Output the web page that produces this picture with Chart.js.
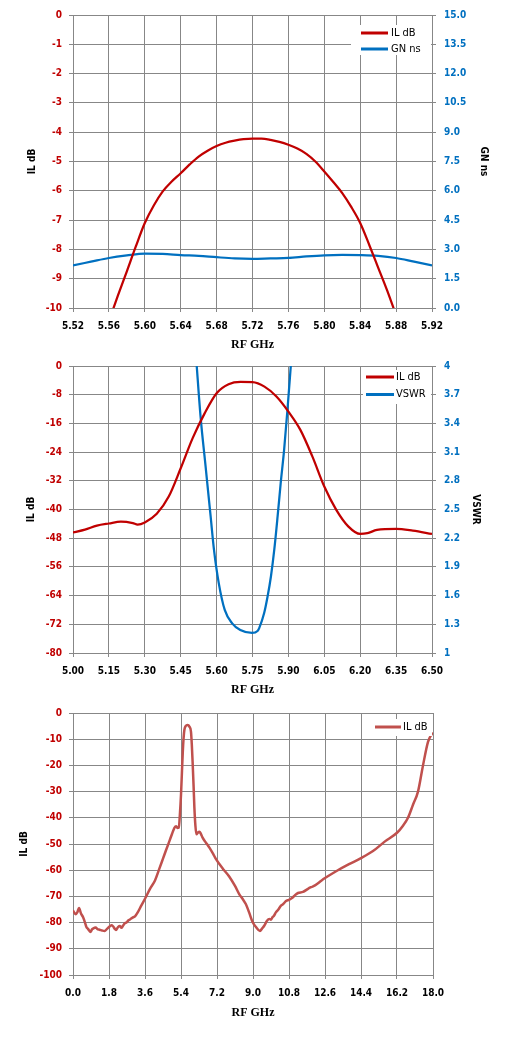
<!DOCTYPE html>
<html>
<head>
<meta charset="utf-8">
<title>IL / GN / VSWR</title>
<script src="https://cdn.jsdelivr.net/npm/chart.js@4.4.1/dist/chart.umd.min.js"></script>
<style>
  html, body { margin: 0; padding: 0; background: #fff; }
  body { position: relative; width: 508px; height: 1038px; overflow: hidden; }
  canvas { position: absolute; left: 0; }
  #c1 { top: 0; }
  #c2 { top: 350px; }
  #c3 { top: 700px; }
</style>
</head>
<body>
<canvas id="c1" width="508" height="356"></canvas>
<canvas id="c2" width="508" height="350"></canvas>
<canvas id="c3" width="508" height="338"></canvas>
<script>
'use strict';

// ── Chart 1: passband IL + group delay ──────────────────────────────────
var c1FreqTicks = [5.52, 5.56, 5.60, 5.64, 5.68, 5.72, 5.76, 5.80, 5.84, 5.88, 5.92];
var c1IlTicks   = [0, -1, -2, -3, -4, -5, -6, -7, -8, -9, -10];
var c1GnTicks   = [0, 1.5, 3, 4.5, 6, 7.5, 9, 10.5, 12, 13.5, 15];

var ilFreq1 = [5.56, 5.57, 5.58, 5.59, 5.60, 5.61, 5.62, 5.63, 5.64, 5.65, 5.66,
               5.67, 5.68, 5.69, 5.70, 5.71, 5.72, 5.73, 5.74, 5.75, 5.76, 5.77,
               5.78, 5.79, 5.80, 5.81, 5.82, 5.83, 5.84, 5.85, 5.86, 5.87, 5.88];
var ilDb1   = [-10.45, -9.58, -8.75, -7.9, -7.1, -6.5, -6.02, -5.68, -5.4, -5.1, -4.83,
               -4.63, -4.47, -4.36, -4.29, -4.24, -4.22, -4.22, -4.26, -4.33, -4.43, -4.56,
               -4.74, -5.0, -5.34, -5.7, -6.08, -6.55, -7.1, -7.84, -8.62, -9.4, -10.25];

var gnFreq = [5.52, 5.54, 5.56, 5.58, 5.60, 5.62, 5.64, 5.66, 5.68, 5.70, 5.72,
              5.74, 5.76, 5.78, 5.80, 5.82, 5.84, 5.86, 5.88, 5.90, 5.92];
var gnNs   = [2.18, 2.37, 2.56, 2.69, 2.78, 2.77, 2.71, 2.67, 2.60, 2.54, 2.52,
              2.54, 2.56, 2.64, 2.70, 2.72, 2.71, 2.67, 2.56, 2.37, 2.18];

// ── Chart 2: IL + VSWR, 5.0 - 6.5 GHz ───────────────────────────────────
var c2FreqTicks = [5.00, 5.15, 5.30, 5.45, 5.60, 5.75, 5.90, 6.05, 6.20, 6.35, 6.50];
var c2IlTicks   = [0, -8, -16, -24, -32, -40, -48, -56, -64, -72, -80];
var c2VswrTicks = [1, 1.3, 1.6, 1.9, 2.2, 2.5, 2.8, 3.1, 3.4, 3.7, 4];

var ilFreq2 = [5.00, 5.05, 5.10, 5.15, 5.20, 5.25, 5.27, 5.30, 5.35, 5.40, 5.45,
               5.50, 5.55, 5.60, 5.65, 5.70, 5.75, 5.80, 5.85, 5.90, 5.95, 6.00,
               6.05, 6.10, 6.15, 6.20, 6.23, 6.27, 6.35, 6.42, 6.50];
var ilDb2   = [-46.4, -45.6, -44.5, -43.9, -43.4, -43.8, -44.2, -43.6, -41.2, -36.4, -28.5,
               -20.1, -13.2, -7.6, -5.1, -4.45, -4.5, -5.75, -8.5, -12.7, -17.8, -25.2,
               -33.6, -40.1, -44.7, -46.8, -46.6, -45.7, -45.4, -45.9, -46.8];

var vswrFreq = [5.500, 5.517, 5.533, 5.554, 5.575, 5.589, 5.609, 5.634, 5.665, 5.699, 5.748,
                5.771, 5.778, 5.799, 5.813, 5.827, 5.841, 5.855, 5.868, 5.882, 5.896, 5.910, 5.925];
var vswr     = [4.6, 4.0, 3.47, 2.95, 2.43, 2.08, 1.73, 1.45, 1.31, 1.24, 1.21,
                1.23, 1.26, 1.42, 1.59, 1.80, 2.08, 2.43, 2.78, 3.12, 3.54, 4.0, 4.5];

// ── Chart 3: wideband IL, 0 - 18 GHz ────────────────────────────────────
var c3FreqTicks = [0, 1.8, 3.6, 5.4, 7.2, 9.0, 10.8, 12.6, 14.4, 16.2, 18.0];
var c3IlTicks   = [0, -10, -20, -30, -40, -50, -60, -70, -80, -90, -100];

var ilFreq3 = [0.0, 0.13, 0.22, 0.3, 0.4, 0.5, 0.6, 0.67, 0.75, 0.87, 0.95, 1.0, 1.13, 1.25,
               1.33, 1.45, 1.58, 1.7, 1.8, 1.92, 2.0, 2.08, 2.15, 2.25, 2.35, 2.42, 2.5, 2.58,
               2.7, 2.75, 2.85, 3.0, 3.1, 3.25, 3.42, 3.6, 3.85, 4.1, 4.3, 4.49, 4.65, 4.82,
               4.95, 5.07, 5.16, 5.22, 5.29, 5.35, 5.40, 5.45, 5.49, 5.53, 5.57, 5.63, 5.73,
               5.82, 5.90, 5.94, 5.98, 6.03, 6.07, 6.12, 6.17, 6.25, 6.32, 6.40, 6.48, 6.65,
               6.82, 7.0, 7.15, 7.5, 7.8, 8.1, 8.31, 8.5, 8.64, 8.8, 8.98, 9.15, 9.35, 9.45,
               9.57, 9.7, 9.82, 9.9, 9.98, 10.05, 10.15, 10.25, 10.4, 10.5, 10.65, 10.8, 11.0,
               11.1, 11.25, 11.5, 11.75, 11.9, 12.1, 12.43, 12.6, 13.2, 13.8, 14.4, 15.0, 15.6,
               16.2, 16.5, 16.75, 17.0, 17.25, 17.5, 17.75, 17.9, 18.0];
var ilDb3   = [-75.4, -76.8, -76.0, -74.4, -76.5, -77.9, -80.0, -81.7, -82.4, -83.6, -82.6, -82.3, -81.9, -82.6,
               -82.7, -83.0, -83.2, -82.4, -81.7, -81.0, -81.4, -82.3, -82.8, -81.7, -81.3, -82.0, -81.2, -80.3,
               -79.8, -79.3, -78.8, -78.0, -77.6, -75.9, -73.4, -70.9, -67.1, -63.9, -59.8, -55.8, -52.4, -48.9,
               -46.2, -43.8, -43.2, -43.9, -43.8, -38.0, -31.2, -22.0, -14.8, -9.5, -6.4, -5.0, -4.6,
               -5.2, -7.2, -12.0, -18.6, -28.0, -36.2, -43.0, -46.3, -45.6, -45.3, -46.2, -47.6, -49.5,
               -51.4, -53.7, -55.8, -59.5, -62.3, -66.0, -69.1, -71.2, -72.9, -76.0, -79.8, -81.7, -83.2, -82.3,
               -81.1, -79.3, -78.6, -78.9, -77.9, -77.4, -76.0, -75.2, -73.5, -73.0, -71.8, -71.3, -70.3,
               -69.5, -68.7, -68.3, -67.1, -66.5, -65.8, -63.9, -63.0, -60.2, -57.7, -55.4, -52.7, -49.0,
               -45.7, -43.0, -40.0, -35.0, -30.0, -20.0, -11.0, -8.5, -7.5];

// ── Styling ─────────────────────────────────────────────────────────────
var SANS  = "'DejaVu Sans Condensed', 'DejaVu Sans', sans-serif";
var SERIF = "'Liberation Serif', 'DejaVu Serif', serif";
var RED   = '#C00000';
var BLUE  = '#0070C0';
var BRICK = '#C0504D';
var GRID  = '#878787';

// ── Helpers ─────────────────────────────────────────────────────────────
function points(xs, ys) {
  return xs.map(function (x, i) { return { x: x, y: ys[i] }; });
}

function fixedTicks(values) {
  return function (scale) {
    scale.ticks = values.map(function (v) { return { value: v }; });
  };
}

function fixedSize(prop, size) {
  return function (scale) { scale[prop] = size; };
}

function xAxis(ticks, decimals, height, titlePad) {
  return {
    type: 'linear', position: 'bottom',
    min: Math.min.apply(null, ticks), max: Math.max.apply(null, ticks),
    afterBuildTicks: fixedTicks(ticks),
    afterFit: fixedSize('height', height),
    grid: { color: GRID, tickLength: 4 },
    border: { color: GRID },
    ticks: {
      color: '#000', padding: 8, maxRotation: 0, autoSkip: false,
      font: { family: SANS, size: 10, weight: 'bold' },
      callback: function (v) { return v.toFixed(decimals); }
    },
    title: {
      display: true, text: 'RF GHz', color: '#000',
      font: { family: SERIF, size: 12, weight: 'bold' },
      padding: { top: 0, bottom: titlePad }
    }
  };
}

function yAxis(side, ticks, color, label, fmt, width, titlePad) {
  return {
    type: 'linear', position: side,
    min: Math.min.apply(null, ticks), max: Math.max.apply(null, ticks),
    afterBuildTicks: fixedTicks(ticks),
    afterFit: fixedSize('width', width),
    grid: { color: GRID, tickLength: 4, drawOnChartArea: side === 'left' },
    border: { color: GRID },
    ticks: {
      color: color, padding: side === 'left' ? 7 : 8, autoSkip: false,
      font: { family: SANS, size: 10, weight: 'bold' },
      callback: fmt
    },
    title: {
      display: true, text: label, color: '#000',
      font: { family: SANS, size: 10, weight: 'bold' },
      padding: { top: titlePad, bottom: 0 }
    }
  };
}

function line(label, xs, ys, color, width, axis) {
  return {
    label: label, data: points(xs, ys), yAxisID: axis,
    borderColor: color, borderWidth: width,
    pointRadius: 0, cubicInterpolationMode: 'monotone', fill: false
  };
}

// Excel-style legend drawn inside the plot, top right corner
var boxLegend = {
  id: 'boxLegend',
  afterDraw: function (chart, args, o) {
    var ctx  = chart.ctx;
    var area = chart.chartArea;
    var left = area.right - o.right - o.width;
    var top  = area.top + o.top;
    ctx.save();
    ctx.fillStyle = '#fff';
    ctx.fillRect(left, top, o.width, o.height);
    ctx.font = '11px ' + SANS;
    ctx.textBaseline = 'middle';
    chart.data.datasets.forEach(function (ds, i) {
      var y = top + o.rowY + i * o.rowGap;
      ctx.strokeStyle = ds.borderColor;
      ctx.lineWidth = 3;
      ctx.beginPath();
      ctx.moveTo(left + o.line[0], y);
      ctx.lineTo(left + o.line[1], y);
      ctx.stroke();
      ctx.fillStyle = '#000';
      ctx.fillText(ds.label, left + o.textX, y);
    });
    ctx.restore();
  }
};

function baseOptions(scales, legend, padding) {
  return {
    responsive: false, animation: false, devicePixelRatio: 1,
    layout: { padding: padding },
    scales: scales,
    plugins: { legend: { display: false }, tooltip: { enabled: false }, boxLegend: legend }
  };
}

function plain(v) { return String(v); }
function oneDec(v) { return v.toFixed(1); }
function trimDec(v) { return String(+v.toFixed(1)); }

// ── Build charts ────────────────────────────────────────────────────────
new Chart(document.getElementById('c1'), {
  type: 'line',
  data: { datasets: [
    line('IL dB', ilFreq1, ilDb1, RED, 2.25, 'y'),
    line('GN ns', gnFreq, gnNs, BLUE, 2.25, 'y2')
  ] },
  options: baseOptions({
    x:  xAxis(c1FreqTicks, 2, 48, 4),
    y:  yAxis('left',  c1IlTicks, RED,  'IL dB', plain, 73, 26),
    y2: yAxis('right', c1GnTicks, BLUE, 'GN ns', oneDec, 76, 18)
  }, { right: 1, width: 80, top: 10, height: 30, line: [10, 37], textX: 40, rowY: 8, rowGap: 16 },
  { top: 15, bottom: 0, left: 0, right: 0 }),
  plugins: [boxLegend]
});

new Chart(document.getElementById('c2'), {
  type: 'line',
  data: { datasets: [
    line('IL dB', ilFreq2, ilDb2, RED, 2.25, 'y'),
    line('VSWR', vswrFreq, vswr, BLUE, 2.25, 'y2')
  ] },
  options: baseOptions({
    x:  xAxis(c2FreqTicks, 2, 47, 3),
    y:  yAxis('left',  c2IlTicks, RED,  'IL dB', plain, 73, 25),
    y2: yAxis('right', c2VswrTicks, BLUE, 'VSWR', trimDec, 76, 26)
  }, { right: 1, width: 68, top: 4, height: 34, line: [3, 31], textX: 33, rowY: 7, rowGap: 17.5 },
  { top: 16, bottom: 0, left: 0, right: 0 }),
  plugins: [boxLegend]
});

new Chart(document.getElementById('c3'), {
  type: 'line',
  data: { datasets: [
    line('IL dB', ilFreq3, ilDb3, BRICK, 2.5, 'y')
  ] },
  options: baseOptions({
    x: xAxis(c3FreqTicks, 1, 63, 18),
    y: yAxis('left', c3IlTicks, RED, 'IL dB', plain, 73, 18)
  }, { right: 1, width: 60, top: 6, height: 17, line: [3, 29], textX: 31, rowY: 8, rowGap: 0 },
  { top: 11, bottom: 0, left: 0, right: 75 }),
  plugins: [boxLegend]
});
</script>
</body>
</html>
